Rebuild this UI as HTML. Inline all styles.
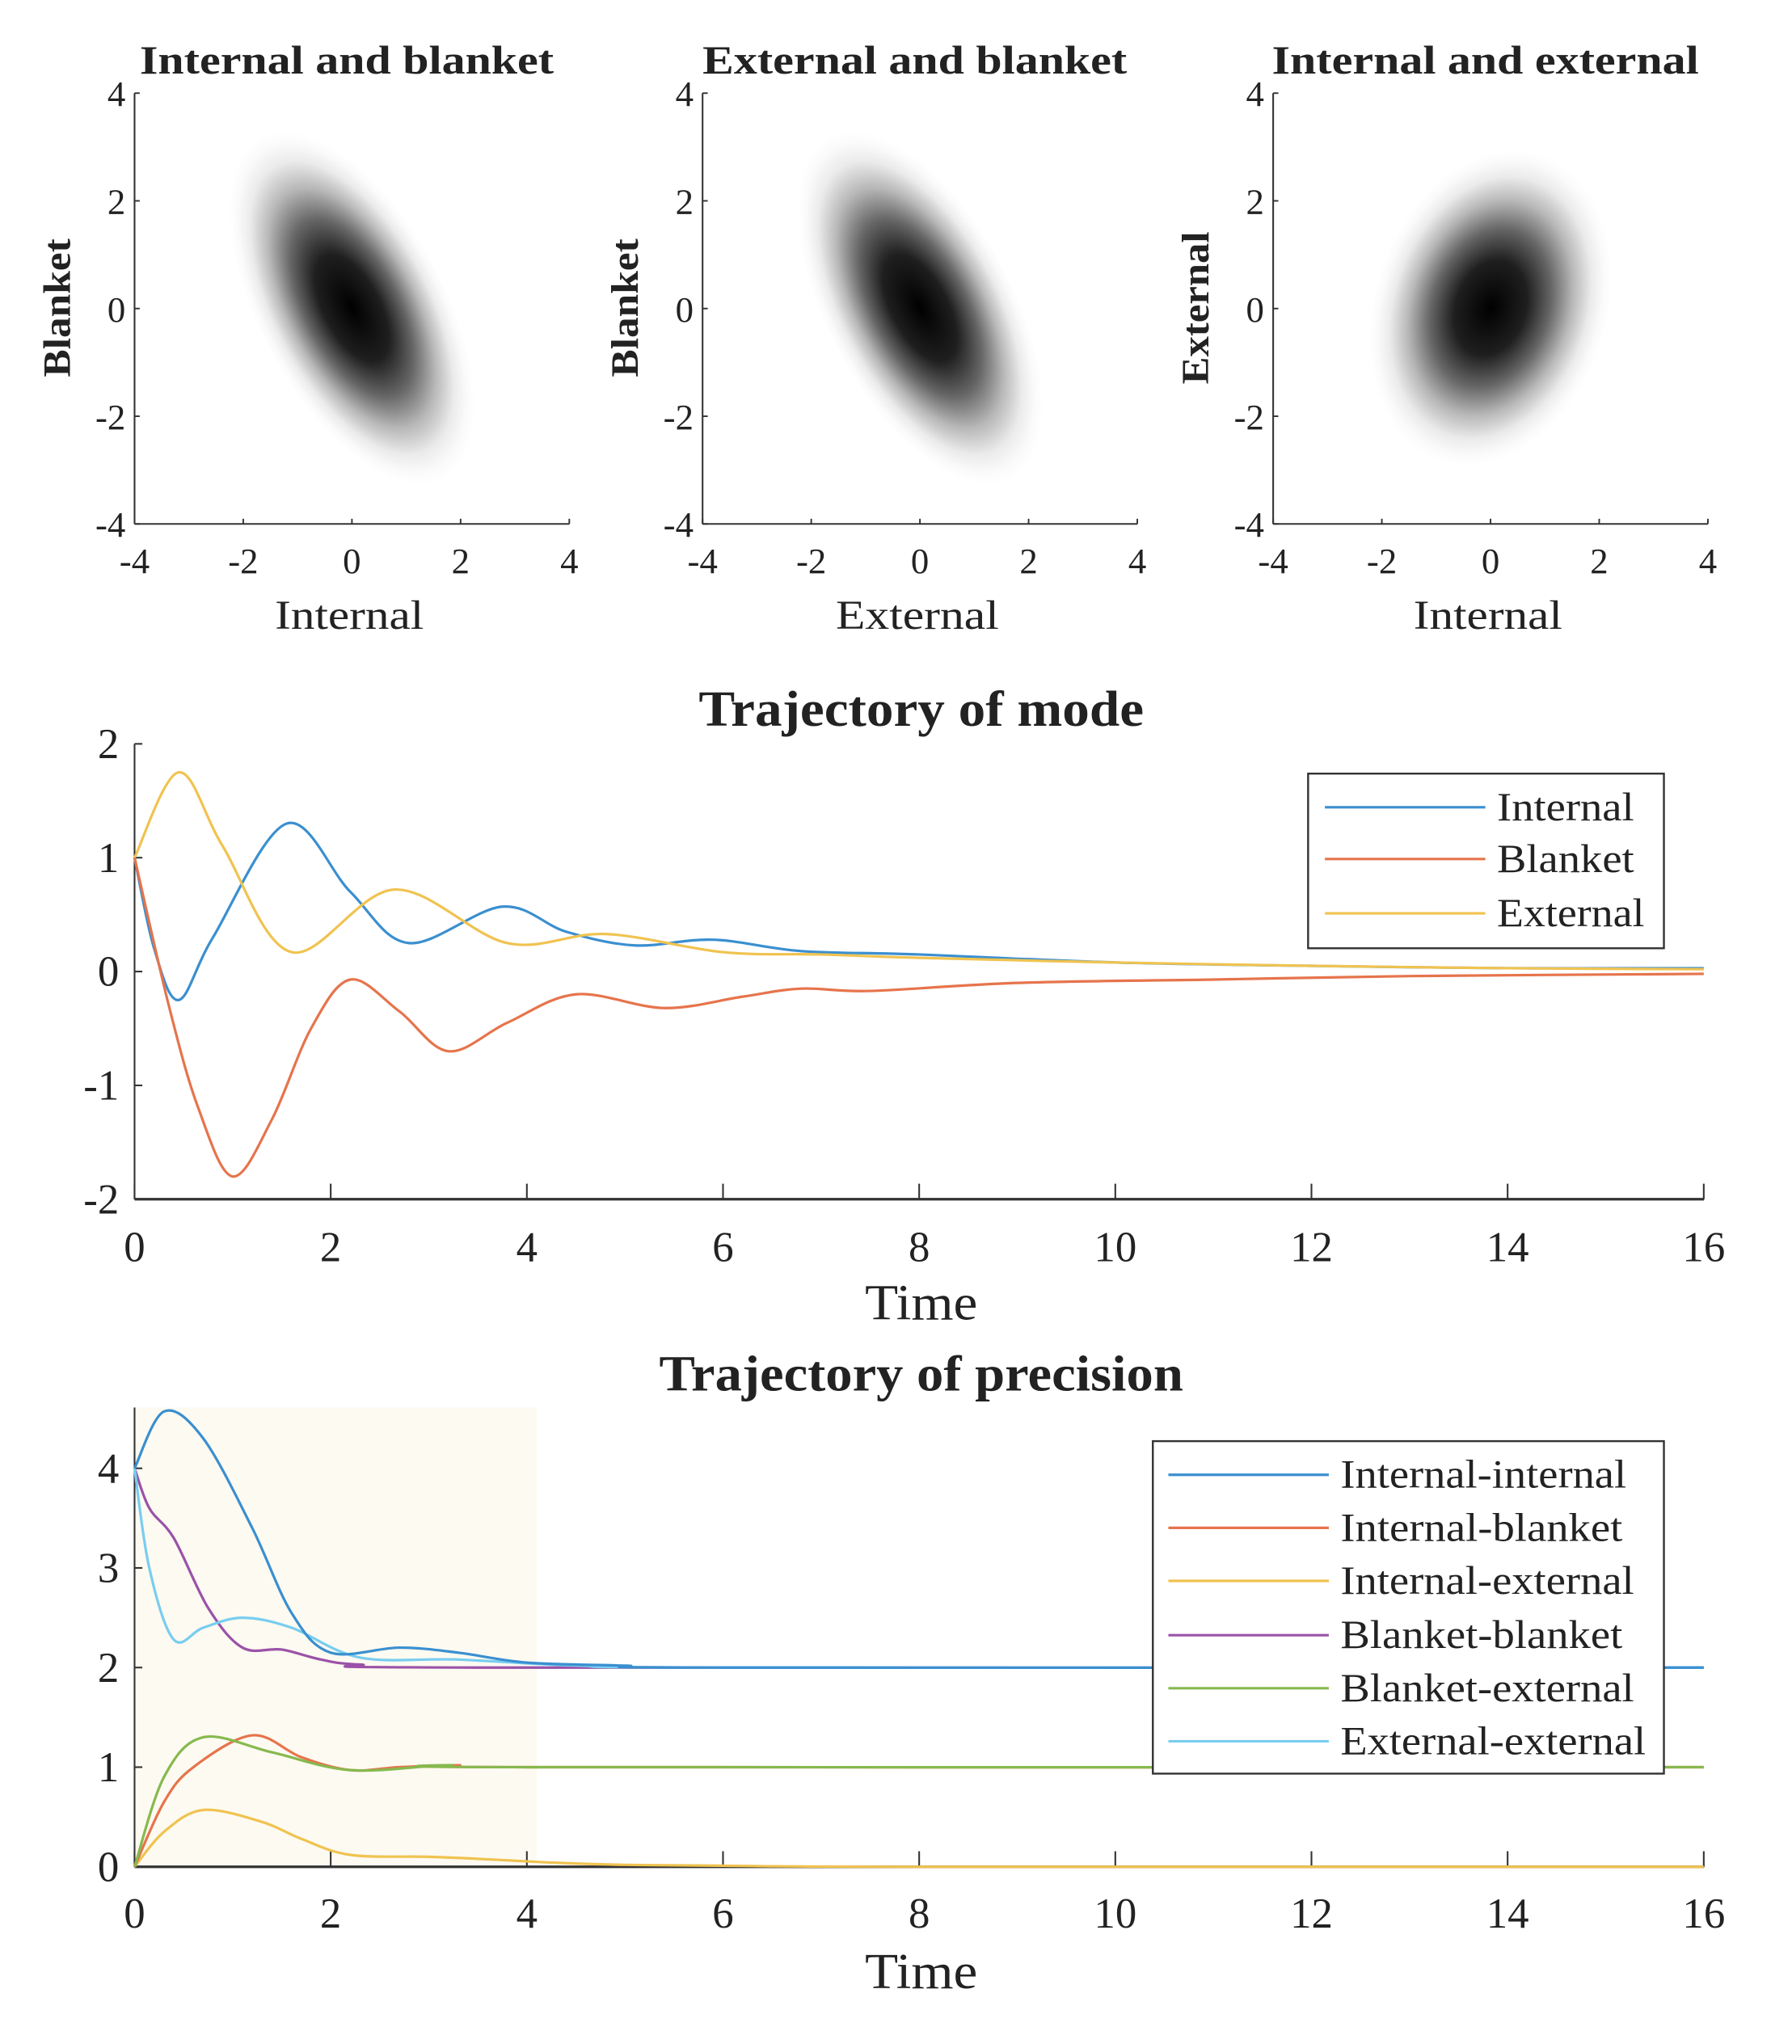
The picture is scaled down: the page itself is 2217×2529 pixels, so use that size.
<!DOCTYPE html>
<html><head><meta charset="utf-8"><style>
html,body{margin:0;padding:0;background:#fff;}
svg{display:block;}
text{font-family:"Liberation Serif",serif;fill:#222;}
</style></head><body>
<svg id="s" width="2217" height="2529" viewBox="0 0 1385 1580" preserveAspectRatio="none" xmlns="http://www.w3.org/2000/svg">
<defs>
<radialGradient id="g">
<stop offset="0" stop-color="#000" stop-opacity="1"/>
<stop offset="0.3" stop-color="#000" stop-opacity="0.88"/>
<stop offset="0.5" stop-color="#000" stop-opacity="0.6"/>
<stop offset="0.68" stop-color="#000" stop-opacity="0.28"/>
<stop offset="0.83" stop-color="#000" stop-opacity="0.08"/>
<stop offset="0.93" stop-color="#000" stop-opacity="0.02"/>
<stop offset="1" stop-color="#000" stop-opacity="0"/>
</radialGradient>
</defs>
<rect width="1385" height="1580" fill="#fff"/>
<ellipse cx="272" cy="238" rx="150" ry="72" fill="url(#g)" transform="rotate(62 272 238)"/>
<ellipse cx="711" cy="238" rx="150" ry="72" fill="url(#g)" transform="rotate(62 711 238)"/>
<ellipse cx="1152" cy="238" rx="125" ry="90" fill="url(#g)" transform="rotate(-72 1152 238)"/>
<g id="gtop"></g>
<g id="gmid"></g>
<g id="gbot"></g>
</svg>
<script>
(function(){
var NS="http://www.w3.org/2000/svg";
function el(p,t,a,txt){var e=document.createElementNS(NS,t);for(var k in a)e.setAttribute(k,a[k]);if(txt!=null)e.textContent=txt;p.appendChild(e);return e;}
function T(p,x,y,size,str,anchor,len,bold,tr){var a={x:x,y:y,'font-size':size,'text-anchor':anchor||'start'};if(len){a.textLength=len;a.lengthAdjust='spacingAndGlyphs';}if(bold)a['font-weight']='bold';if(tr)a.transform=tr;return el(p,'text',a,str);}
var gtop=document.getElementById('gtop'),gmid=document.getElementById('gmid'),gbot=document.getElementById('gbot');
var AX="#333";
var panels=[[104,"Internal and blanket","Internal","Blanket",320,115,107],[543,"External and blanket","External","Blanket",328,126,107],[984,"Internal and external","Internal","External",330,115,118]];
panels.forEach(function(p){
 var x0=p[0],x1=x0+336,y0=72,y1=405;
 el(gtop,'line',{x1:x0,y1:y0,x2:x0,y2:y1,stroke:AX,'stroke-width':1.3});
 el(gtop,'line',{x1:x0,y1:y1,x2:x1,y2:y1,stroke:AX,'stroke-width':1.3});
 for(var i=0;i<5;i++){
  var x=x0+i*84, y=y0+i*83.25;
  el(gtop,'line',{x1:x,y1:y1,x2:x,y2:y1-4,stroke:AX,'stroke-width':1.2});
  el(gtop,'line',{x1:x0,y1:y,x2:x0+4,y2:y,stroke:AX,'stroke-width':1.2});
  T(gtop,x,443,28,String(-4+2*i),'middle');
  T(gtop,x0-7,y+10,28,String(4-2*i),'end');
 }
 T(gtop,x0+164,57,31,p[1],'middle',p[4],true);
 T(gtop,x0+166,486,32,p[2],'middle',p[5]);
 T(gtop,0,0,30,p[3],'middle',p[6],true,'translate('+(x0-50)+',238) rotate(-90)');
});
function spline(pts){
 var d="M"+pts[0][0]+","+pts[0][1];
 for(var i=0;i<pts.length-1;i++){
  var p0=pts[i-1]||pts[i],p1=pts[i],p2=pts[i+1],p3=pts[i+2]||p2;
  var c1=[p1[0]+(p2[0]-p0[0])/6,p1[1]+(p2[1]-p0[1])/6];
  var c2=[p2[0]-(p3[0]-p1[0])/6,p2[1]-(p3[1]-p1[1])/6];
  d+=" C"+c1[0].toFixed(1)+","+c1[1].toFixed(1)+" "+c2[0].toFixed(1)+","+c2[1].toFixed(1)+" "+p2[0].toFixed(1)+","+p2[1].toFixed(1);
 }
 return d;
}
var BL="#3a8fd0",OR="#e6744c",YE="#f0c350",PU="#9a52a8",GR="#86b94e",CY="#78cdf0";
(function(){
 var X=function(t){return 104+t*75.8}, Y=function(v){return 751-v*88};
 T(gmid,712,561,39,"Trajectory of mode",'middle',344,true);
 el(gmid,'line',{x1:104,y1:575,x2:104,y2:927,stroke:AX,'stroke-width':1.3});
 el(gmid,'line',{x1:104,y1:927,x2:1317,y2:927,stroke:AX,'stroke-width':2});
 for(var t=0;t<=16;t+=2){el(gmid,'line',{x1:X(t),y1:927,x2:X(t),y2:915,stroke:AX,'stroke-width':1.3});
  T(gmid,X(t),975,33,String(t),'middle');}
 for(var v=-2;v<=2;v++){el(gmid,'line',{x1:104,y1:Y(v),x2:110,y2:Y(v),stroke:AX,'stroke-width':1.3});
  T(gmid,92,Y(v)+11,33,String(v),'end');}
 T(gmid,712,1020,39,"Time",'middle',87);
 function S(arr,c){el(gmid,'path',{d:spline(arr.map(function(a){return [X(a[0]),Y(a[1])]})),fill:'none',stroke:c,'stroke-width':2});}
 S([[0,1],[0.2,0.2],[0.45,-0.25],[0.8,0.3],[1.55,1.3],[2.2,0.7],[2.8,0.25],[3.75,0.57],[4.4,0.35],[5.1,0.23],[5.9,0.28],[6.8,0.18],[8,0.15],[10,0.08],[12,0.05],[14,0.03],[16,0.03]],BL);
 S([[0,1],[0.45,1.75],[0.9,1.1],[1.6,0.17],[2.65,0.72],[3.8,0.25],[4.8,0.33],[6,0.17],[7,0.15],[8,0.12],[10,0.08],[12,0.05],[14,0.03],[16,0.02]],YE);
 S([[0,1],[0.35,-0.3],[0.65,-1.2],[1.0,-1.8],[1.4,-1.3],[1.8,-0.5],[2.2,-0.07],[2.7,-0.35],[3.2,-0.7],[3.8,-0.45],[4.5,-0.2],[5.4,-0.32],[6.2,-0.22],[6.8,-0.15],[7.5,-0.17],[9,-0.1],[11,-0.07],[13,-0.04],[16,-0.02]],OR);
 el(gmid,'rect',{x:1011,y:598,width:275,height:135,fill:'#fff',stroke:'#333','stroke-width':1.5});
 [["Internal",BL,624,106],["Blanket",OR,664,106],["External",YE,706,114]].forEach(function(e){
  el(gmid,'line',{x1:1024,y1:e[2],x2:1148,y2:e[2],stroke:e[1],'stroke-width':2});
  T(gmid,1157,e[2]+10,31,e[0],'start',e[3]);});
})();
(function(){
 var X=function(t){return 104+t*75.8}, Y=function(v){return 1443-v*77};
 el(gbot,'rect',{x:104,y:1088,width:311,height:355,fill:'#fdfaf1'});
 T(gbot,712,1075,39,"Trajectory of precision",'middle',405,true);
 el(gbot,'line',{x1:104,y1:1088,x2:104,y2:1443,stroke:AX,'stroke-width':1.3});
 el(gbot,'line',{x1:104,y1:1443,x2:1317,y2:1443,stroke:AX,'stroke-width':2});
 for(var t=0;t<=16;t+=2){el(gbot,'line',{x1:X(t),y1:1443,x2:X(t),y2:1431,stroke:AX,'stroke-width':1.3});
  T(gbot,X(t),1490,33,String(t),'middle');}
 for(var v=0;v<=4;v++){el(gbot,'line',{x1:104,y1:Y(v),x2:110,y2:Y(v),stroke:AX,'stroke-width':1.3});
  T(gbot,92,Y(v)+11,33,String(v),'end');}
 T(gbot,712,1537,39,"Time",'middle',87);
 function S(arr,c){el(gbot,'path',{d:spline(arr.map(function(a){return [X(a[0]),Y(a[1])]})),fill:'none',stroke:c,'stroke-width':2});}
 S([[0,0],[0.3,0.35],[0.7,0.57],[1.3,0.45],[1.7,0.28],[2.2,0.12],[3,0.1],[3.7,0.07],[4.3,0.04],[5,0.02],[6,0.01],[8,0],[16,0]],YE);
 S([[0,0],[0.3,0.65],[0.6,1.0],[1.2,1.32],[1.7,1.1],[2.2,0.97],[2.7,1.0],[3.3,1.02],[4,1.0],[16,1.0]],OR);
 S([[0,0],[0.3,0.9],[0.7,1.3],[1.4,1.15],[2.2,0.97],[3.2,1.02],[4,1.0],[16,1.0]],GR);
 S([[0,4],[0.15,3.6],[0.4,3.3],[0.75,2.6],[1.1,2.2],[1.5,2.18],[1.9,2.08],[2.3,2.03],[3.5,2.0],[16,2.0]],PU);
 S([[0,4],[0.15,3.0],[0.4,2.28],[0.7,2.4],[1.1,2.5],[1.6,2.4],[2.3,2.1],[3.3,2.08],[4.5,2.02],[6,2.0],[16,2.0]],CY);
 S([[0,4],[0.3,4.57],[0.7,4.3],[1.2,3.4],[1.6,2.55],[2.0,2.15],[2.7,2.2],[3.3,2.15],[4,2.05],[5,2.02],[6,2.0],[16,2.0]],BL);
 el(gbot,'rect',{x:891,y:1114,width:395,height:257,fill:'#fff',stroke:'#333','stroke-width':1.5});
 [["Internal-internal",BL,1140,221],["Internal-blanket",OR,1181,218],["Internal-external",YE,1222,227],["Blanket-blanket",PU,1264,218],["Blanket-external",GR,1305,227],["External-external",CY,1346,236]].forEach(function(e){
  el(gbot,'line',{x1:903,y1:e[2],x2:1027,y2:e[2],stroke:e[1],'stroke-width':2});
  T(gbot,1036,e[2]+10,31,e[0],'start',e[3]);});
})();
})();
</script>
</body></html>
